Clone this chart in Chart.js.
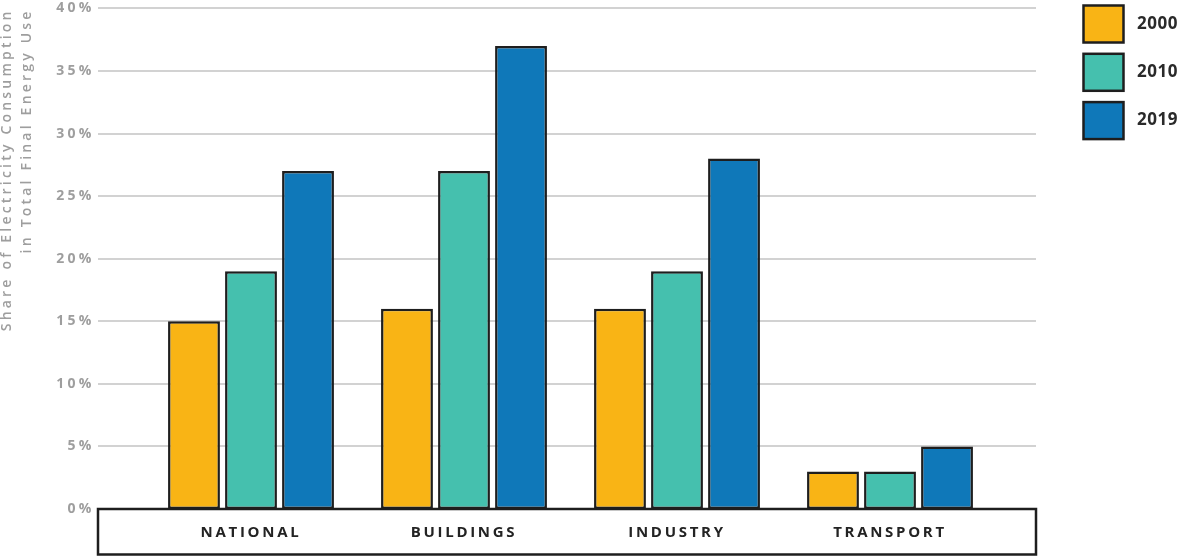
<!DOCTYPE html>
<html>
<head>
<meta charset="utf-8">
<script src="https://cdn.jsdelivr.net/npm/chart.js@4/dist/chart.umd.min.js"></script>
<style>
  html, body { margin: 0; padding: 0; background: #ffffff; }
  #wrap { width: 1180px; height: 556px; position: relative; }
</style>
</head>
<body>
<div id="wrap"><canvas id="c"></canvas></div>
<script>
const categories = ['NATIONAL', 'BUILDINGS', 'INDUSTRY', 'TRANSPORT'];
const years = ['2000', '2010', '2019'];
const share2000 = [15, 16, 16, 3];
const share2010 = [19, 27, 19, 3];
const share2019 = [27, 37, 28, 5];
const seriesColors = ['#F9B415', '#45C0AE', '#0F78B9'];
const yTitleLines = ['Share of Electricity Consumption', 'in Total Final Energy Use'];

const FONT = '"Open Sans", "Noto Sans", sans-serif';

const framePlugin = {
  id: 'frame',
  beforeDraw(chart) {
    chart.ctx.letterSpacing = '3.2px';
  },
  beforeDatasetsDraw(chart) {
    const ctx = chart.ctx;
    const y = chart.scales.y;
    const area = chart.chartArea;
    ctx.save();
    ctx.strokeStyle = '#d2d2d2';
    ctx.lineWidth = 2;
    y.ticks.forEach(t => {
      if (t.value === 0) return;
      const py = Math.round(y.getPixelForValue(t.value));
      ctx.beginPath();
      ctx.moveTo(area.left - 46.5, py);
      ctx.lineTo(area.right + 39.5, py);
      ctx.stroke();
    });
    ctx.restore();
  },
  afterDatasetsDraw(chart) {
    const ctx = chart.ctx;
    const y = chart.scales.y;
    const area = chart.chartArea;
    const top = y.getPixelForValue(0);
    ctx.save();
    ctx.strokeStyle = '#1e1e1e';
    ctx.lineWidth = 2.5;
    ctx.fillStyle = '#ffffff';
    const l = area.left - 46.5, r = area.right + 39.5;
    ctx.fillRect(l, top, r - l, chart.height - top);
    ctx.strokeRect(l, top, r - l, chart.height - 1.5 - top);
    ctx.restore();
    ctx.letterSpacing = '2.7px';
  },
  afterDraw(chart) {
    const ctx = chart.ctx;
    ctx.save();
    ctx.letterSpacing = '0.5px';
    chart.data.datasets.forEach((ds, i) => {
      const bx = 1083.5, by = 5.5 + i * 48.3, bw = 40, bh = 37;
      ctx.fillStyle = ds.backgroundColor;
      ctx.fillRect(bx, by, bw, bh);
      ctx.strokeStyle = '#1e1e1e';
      ctx.lineWidth = 2.5;
      ctx.strokeRect(bx, by, bw, bh);
      ctx.fillStyle = '#2a2a2a';
      ctx.font = 'bold 17px ' + FONT;
      ctx.textAlign = 'left';
      ctx.textBaseline = 'middle';
      ctx.fillText(ds.label, 1137, by + bh / 2);
    });
    ctx.restore();
    ctx.letterSpacing = '0px';
  }
};

const ctx = document.getElementById('c').getContext('2d');
new Chart(ctx, {
  type: 'bar',
  data: {
    labels: categories,
    datasets: [
      { label: years[0], data: share2000, backgroundColor: seriesColors[0] },
      { label: years[1], data: share2010, backgroundColor: seriesColors[1] },
      { label: years[2], data: share2019, backgroundColor: seriesColors[2] }
    ].map(d => Object.assign(d, {
      borderColor: '#1e1e1e',
      borderWidth: 2.5,
      borderSkipped: false,
      barPercentage: 0.91,
      categoryPercentage: 0.803
    }))
  },
  options: {
    responsive: true,
    maintainAspectRatio: false,
    animation: false,
    devicePixelRatio: 1,
    layout: { padding: { left: 0, right: 183.5, top: -2, bottom: 0 } },
    plugins: {
      legend: { display: false },
      tooltip: { enabled: false }
    },
    scales: {
      x: {
        grid: { display: false, drawTicks: false },
        border: { display: false },
        ticks: {
          z: 1,
          padding: 15,
          color: '#232323',
          font: { family: FONT, size: 15, weight: 'bold' }
        },
        afterFit(scale) { scale.height = 47; }
      },
      y: {
        min: 0,
        max: 40,
        grid: { display: false, drawTicks: true, tickLength: 50 },
        border: { display: false },
        ticks: {
          stepSize: 5,
          padding: 0,
          color: '#9e9e9e',
          font: { family: FONT, size: 14, weight: 'bold' },
          callback: v => v + '%'
        },
        title: {
          display: true,
          text: yTitleLines,
          align: 'end',
          color: '#9e9e9e',
          padding: { top: -3, bottom: 0 },
          font: { family: FONT, size: 14, weight: '600', lineHeight: '20px' }
        },
        afterFit(scale) { scale.width = 144.5; }
      }
    }
  },
  plugins: [framePlugin]
});
</script>
</body>
</html>
